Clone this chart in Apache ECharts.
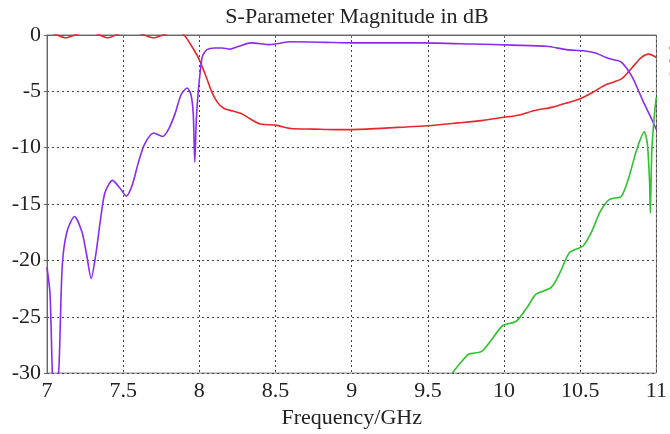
<!DOCTYPE html>
<html>
<head>
<meta charset="utf-8">
<script src="https://cdn.jsdelivr.net/npm/echarts@6/dist/echarts.min.js"></script>
<style>
  html, body { margin: 0; padding: 0; background: #fff; }
  #chart { width: 670px; height: 434px; }
</style>
</head>
<body>
<div id="chart"></div>
<script>
// S11 (red)
const s11Freq = [7.0, 7.05, 7.12, 7.2, 7.27, 7.33, 7.40, 7.47, 7.55, 7.62, 7.70, 7.78, 7.86, 7.90, 7.95, 8.0, 8.05, 8.08, 8.12, 8.16, 8.22, 8.28, 8.34, 8.40, 8.5, 8.6, 8.75, 8.9, 9.1, 9.3, 9.5, 9.7, 9.85, 10.0, 10.1, 10.2, 10.32, 10.42, 10.5, 10.58, 10.67, 10.77, 10.84, 10.9, 10.95, 11.0]
const s11Db = [0.3, 0.1, -0.25, 0.1, 0.4, 0.1, -0.25, 0.1, 0.4, 0.1, -0.25, 0.1, 0.3, 0, -1.0, -2.2, -3.9, -5.0, -6.0, -6.5, -6.75, -7.0, -7.5, -7.9, -8.0, -8.3, -8.35, -8.4, -8.35, -8.2, -8.05, -7.8, -7.6, -7.3, -7.1, -6.7, -6.4, -6.0, -5.65, -5.1, -4.4, -3.9, -2.9, -2.0, -1.7, -2.0]

// S21 (purple)
const s21Freq = [7.0, 7.02, 7.035, 7.05, 7.065, 7.08, 7.1, 7.13, 7.18, 7.23, 7.26, 7.29, 7.32, 7.35, 7.38, 7.43, 7.48, 7.52, 7.56, 7.6, 7.64, 7.7, 7.76, 7.8, 7.84, 7.88, 7.92, 7.945, 7.96, 7.97, 7.98, 7.99, 8.0, 8.02, 8.05, 8.1, 8.15, 8.2, 8.26, 8.34, 8.46, 8.6, 8.83, 9.0, 9.18, 9.45, 9.79, 10.06, 10.28, 10.41, 10.52, 10.6, 10.67, 10.72, 10.77, 10.84, 10.91, 10.97, 11.0]
const s21Db = [-20.6, -23, -30, -34, -32, -29, -20.5, -17.5, -16.1, -17.5, -19.5, -21.6, -19.5, -16.5, -14, -12.9, -13.6, -14.3, -13.3, -11.3, -9.7, -8.7, -9.0, -8.3, -7.0, -5.3, -4.7, -5.3, -7.0, -11.3, -7.5, -5.5, -4.0, -1.9, -1.3, -1.15, -1.15, -1.25, -1.0, -0.7, -0.85, -0.6, -0.65, -0.7, -0.7, -0.7, -0.8, -0.9, -1.0, -1.3, -1.4, -1.6, -2.0, -2.2, -2.4, -3.7, -5.8, -7.5, -8.4]

// S31 (green)
const s31Freq = [9.66, 9.72, 9.77, 9.85, 9.92, 9.99, 10.08, 10.15, 10.21, 10.31, 10.37, 10.43, 10.52, 10.58, 10.63, 10.69, 10.77, 10.82, 10.87, 10.92, 10.94, 10.955, 10.96, 10.97, 10.99, 11.0]
const s31Db = [-30, -29, -28.3, -28.1, -27, -25.8, -25.4, -24.2, -23.0, -22.4, -21, -19.3, -18.7, -17.3, -15.7, -14.6, -14.3, -12.6, -10.2, -8.6, -9.6, -13, -15.8, -10.2, -6.6, -5.5]

const xTicks = [7, 7.5, 8, 8.5, 9, 9.5, 10, 10.5, 11]
const yTicks = [0, -5, -10, -15, -20, -25, -30]

const pairs = (xs, ys) => xs.map((x, i) => [x, ys[i]])
const serif = "Liberation Serif"

const chart = echarts.init(document.getElementById("chart"))
chart.setOption({
  animation: false,
  title: {
    text: "S-Parameter Magnitude in dB",
    left: 352, top: 1, textAlign: "center",
    textStyle: {fontFamily: serif, fontSize: 22, fontWeight: "normal", color: "#222"}
  },
  legend: {
    left: 664, top: 38, orient: "vertical", itemGap: 3,
    itemWidth: 10, itemHeight: 3, icon: "rect",
    textStyle: {fontSize: 10, color: "#ccc"},
    data: [
      {name: "S11", itemStyle: {color: "#f29090"}},
      {name: "S21", itemStyle: {color: "#c09cf2"}},
      {name: "S31", itemStyle: {color: "#f2c890"}}
    ]
  },
  grid: {left: 47, right: 12, top: 35, bottom: 60, show: true, borderColor: "#777", borderWidth: 1},
  xAxis: {
    type: "value", min: xTicks[0], max: xTicks[xTicks.length - 1], interval: 0.5,
    name: "Frequency/GHz", nameLocation: "middle", nameGap: 29,
    nameTextStyle: {fontFamily: serif, fontSize: 22, color: "#222"},
    axisLine: {lineStyle: {color: "#666"}},
    axisTick: {show: true, length: 3, lineStyle: {color: "#666"}},
    axisLabel: {fontFamily: serif, fontSize: 22, color: "#222", margin: 7},
    splitLine: {lineStyle: {type: [2, 3], color: "#444"}}
  },
  yAxis: {
    type: "value", min: yTicks[yTicks.length - 1], max: yTicks[0], interval: 5,
    axisLine: {show: true, lineStyle: {color: "#666"}},
    axisTick: {show: true, length: 3, lineStyle: {color: "#666"}},
    axisLabel: {fontFamily: serif, fontSize: 22, color: "#222", margin: 6},
    splitLine: {lineStyle: {type: [2, 3], color: "#444"}}
  },
  series: [
    {name: "S11", type: "line", data: pairs(s11Freq, s11Db), smooth: 0.25, symbol: "none", clip: true,
     lineStyle: {color: "#e8262a", width: 1.6}, itemStyle: {color: "#e8262a"}},
    {name: "S21", type: "line", data: pairs(s21Freq, s21Db), smooth: 0.25, symbol: "none", clip: true,
     lineStyle: {color: "#8a2cf0", width: 1.6}, itemStyle: {color: "#8a2cf0"}},
    {name: "S31", type: "line", data: pairs(s31Freq, s31Db), smooth: 0.25, symbol: "none", clip: true,
     lineStyle: {color: "#2ec22e", width: 1.6}, itemStyle: {color: "#2ec22e"}}
  ]
})
</script>
</body>
</html>
